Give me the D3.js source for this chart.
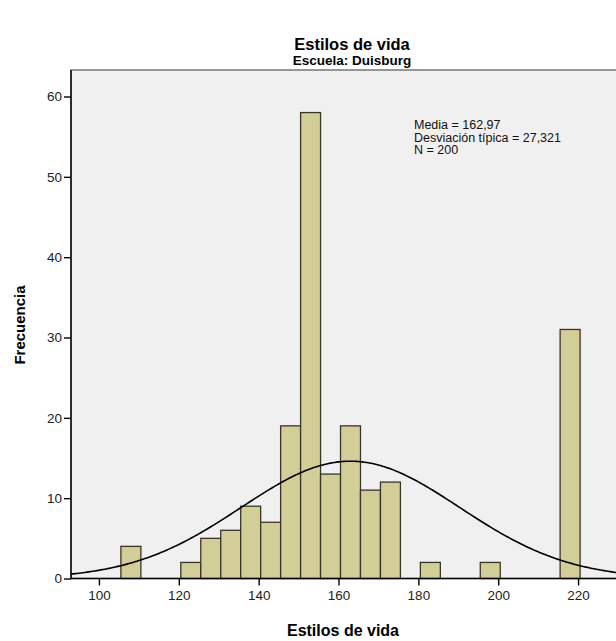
<!DOCTYPE html>
<html>
<head>
<meta charset="utf-8">
<script src="https://cdn.jsdelivr.net/npm/d3@7"></script>
<style>
  body { margin: 0; background: #fff; }
  text { font-family: "Liberation Sans", Arial, sans-serif; fill: #000; }
</style>
</head>
<body>
<div id="chart"></div>
<script>
// histogram bins (lower edge), width 5
const binStart = [105.5, 120.5, 125.5, 130.5, 135.5, 140.5, 145.5, 150.5, 155.5, 160.5, 165.5, 170.5, 180.5, 195.5, 215.5]
const counts = [4, 2, 5, 6, 9, 7, 19, 58, 13, 19, 11, 12, 2, 2, 31]
const binWidth = 5
const xTicks = [100, 120, 140, 160, 180, 200, 220]
const yTicks = [0, 10, 20, 30, 40, 50, 60]
const stats = { mean: 162.97, sd: 27.321, n: 200 }
const statLines = ['Media = 162,97', 'Desviación típica = 27,321', 'N = 200']

const fullWidth = 616,
  fullHeight = 641,
  plot = { left: 71, top: 70, right: 630, bottom: 578.5 }

const x = d3.scaleLinear()
  .domain([93, 233])
  .range([plot.left, plot.right])

const y = d3.scaleLinear()
  .domain([0, 63.3])
  .range([plot.bottom, plot.top])

const svg = d3.select('#chart')
  .append('svg')
  .attr('width', fullWidth)
  .attr('height', fullHeight)

svg.append('rect')
  .attr('x', plot.left)
  .attr('y', plot.top)
  .attr('width', plot.right - plot.left)
  .attr('height', plot.bottom - plot.top)
  .style('fill', '#f0f0f0')
  .style('stroke', '#555')
  .style('stroke-width', 1.2)

const data = binStart.map((b, i) => ({ x0: b, x1: b + binWidth, count: counts[i] }))

svg.selectAll('.bar')
  .data(data)
  .enter()
  .append('rect')
  .attr('class', 'bar')
  .attr('x', d => x(d.x0))
  .attr('y', d => y(d.count))
  .attr('width', d => x(d.x1) - x(d.x0))
  .attr('height', d => y(0) - y(d.count))
  .style('fill', '#d3ce97')
  .style('stroke', '#38352a')
  .style('stroke-width', 1.3)

// normal curve from the stats box
const norm = v => stats.n * binWidth / (stats.sd * Math.sqrt(2 * Math.PI)) *
  Math.exp(-0.5 * Math.pow((v - stats.mean) / stats.sd, 2))

const curve = d3.range(93, 233.5, 0.5).map(v => [v, norm(v)])

svg.append('path')
  .datum(curve)
  .attr('d', d3.line().x(d => x(d[0])).y(d => y(d[1])))
  .style('fill', 'none')
  .style('stroke', '#000')
  .style('stroke-width', 1.6)

// axes
svg.append('g')
  .attr('transform', `translate(0, ${plot.bottom})`)
  .call(d3.axisBottom(x).tickValues(xTicks).tickSize(7).tickSizeOuter(0).tickPadding(5))
  .call(g => g.select('.domain').attr('d', `M${plot.left},0H${plot.right}`).style('stroke', '#000').style('stroke-width', 1.4))
  .call(g => g.selectAll('.tick line').style('stroke', '#000').style('stroke-width', 1.4))
  .call(g => g.selectAll('.tick text').style('font-size', '13.5px').style('font-family', '"Liberation Sans", Arial, sans-serif').style('fill', '#222'))

svg.append('g')
  .attr('transform', `translate(${plot.left}, 0)`)
  .call(d3.axisLeft(y).tickValues(yTicks).tickSize(7).tickSizeOuter(0).tickPadding(2))
  .call(g => g.select('.domain').attr('d', `M0,${plot.top}V${plot.bottom}`).style('stroke', '#000').style('stroke-width', 1.4))
  .call(g => g.selectAll('.tick line').style('stroke', '#000').style('stroke-width', 1.4))
  .call(g => g.selectAll('.tick text').style('font-size', '13.5px').style('font-family', '"Liberation Sans", Arial, sans-serif').style('fill', '#222'))

// titles
svg.append('text')
  .attr('x', 352)
  .attr('y', 50)
  .attr('text-anchor', 'middle')
  .style('font-size', '16.5px')
  .style('font-weight', 'bold')
  .text('Estilos de vida')

svg.append('text')
  .attr('x', 352)
  .attr('y', 65)
  .attr('text-anchor', 'middle')
  .style('font-family', '"Liberation Sans Narrow", "Liberation Sans", Arial, sans-serif')
  .style('font-size', '13.5px')
  .style('font-weight', 'bold')
  .text('Escuela: Duisburg')

svg.append('text')
  .attr('x', 343)
  .attr('y', 636)
  .attr('text-anchor', 'middle')
  .style('font-size', '16px')
  .style('font-weight', 'bold')
  .text('Estilos de vida')

svg.append('text')
  .attr('transform', 'translate(25, 325) rotate(-90)')
  .attr('text-anchor', 'middle')
  .style('font-size', '15px')
  .style('font-weight', 'bold')
  .text('Frecuencia')

svg.append('g')
  .selectAll('text')
  .data(statLines)
  .enter()
  .append('text')
  .attr('x', 414)
  .attr('y', (d, i) => 129 + i * 12.5)
  .style('font-size', '12.5px')
  .style('fill', '#111')
  .text(t => t)
</script>
</body>
</html>
